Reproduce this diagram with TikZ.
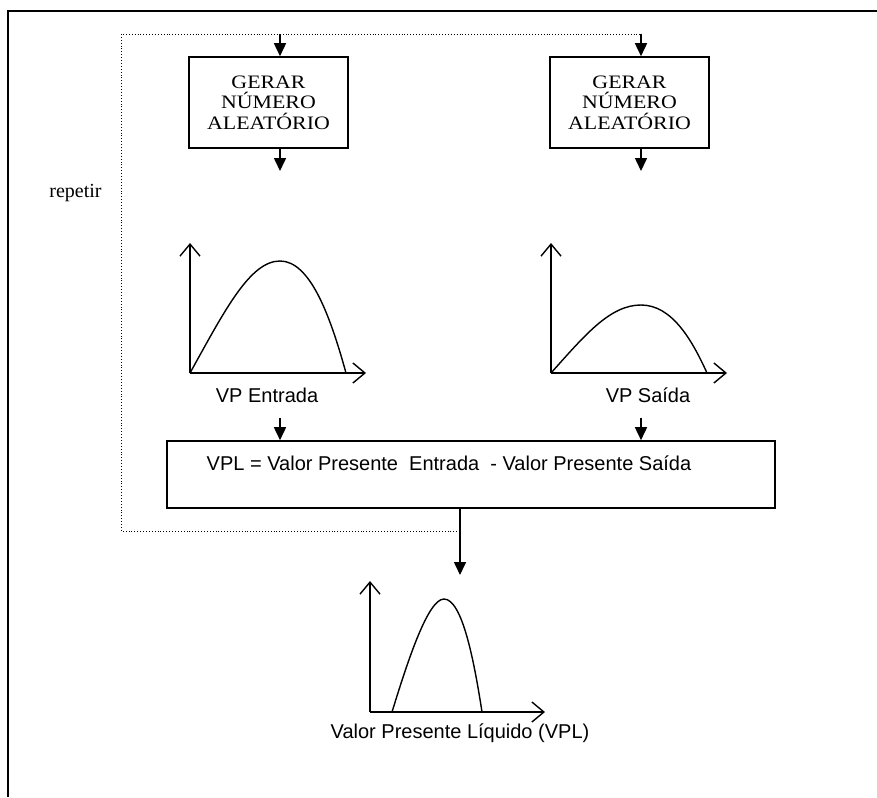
\documentclass[tikz,border=0pt]{standalone}
\usepackage{fontspec}
\setmainfont{Liberation Serif}
\setsansfont{Liberation Sans}
\newfontfamily\boxfont[FakeStretch=1.15]{Liberation Serif}
\usetikzlibrary{arrows.meta}
\begin{document}
\begin{tikzpicture}[x=1pt,y=-1pt,
  genbox/.style={draw,line width=1.6pt,minimum width=159pt,minimum height=91pt,
    align=center,inner sep=0pt,font=\boxfont\fontsize{19}{20.5}\selectfont},
  calcbox/.style={draw,line width=1.6pt,minimum width=608pt,minimum height=67pt,inner sep=0pt},
  flow/.style={line width=1.6pt,-{Triangle[length=13pt,width=12pt]}},
  axis/.style={line width=1.5pt,-{Straight Barb[length=12pt,width=20pt,line width=1.4pt]}},
  density/.style={line width=1.4pt},
  loop/.style={dotted,line width=0.9pt},
  lbl/.style={font=\sffamily\fontsize{20}{22}\selectfont,inner sep=0pt}]
\useasboundingbox (0,0) rectangle (877,797);

% page frame
\draw[line width=2pt] (7.5,797) -- (7.5,11.5) -- (877,11.5);

% random number generators
\node[genbox] (gen1) at (268.5,102.5) {GERAR\\NÚMERO\\ALEATÓRIO};
\node[genbox] (gen2) at (629.5,102.5) {GERAR\\NÚMERO\\ALEATÓRIO};

% repeat loop
\coordinate (in1) at (280,34);
\coordinate (in2) at (641,34);
\coordinate (lt) at (121,34);
\coordinate (lb) at (121,531);
\coordinate (lr) at (460,531);
\draw[loop] (lr) -- (lb) -- (lt) -- (in2);
\node[font=\fontsize{20}{22}\selectfont,anchor=base,inner sep=0pt] (rep) at (75.5,197) {repetir};

\draw[flow] (in1) -- (in1 |- gen1.north);
\draw[flow] (in2) -- (in2 |- gen2.north);

\coordinate (out1) at (280,171);
\coordinate (out2) at (641,171);
\draw[flow] (gen1.south -| out1) -- (out1);
\draw[flow] (gen2.south -| out2) -- (out2);

% input distribution
\coordinate (o1) at (190,373);
\coordinate (y1) at (190,243);
\coordinate (x1) at (366,373);
\draw[axis] (o1) -- (y1);
\draw[axis] (o1) -- (x1);
\draw[density] (o1) .. controls (225,310) and (250,261) .. (280,261)
  .. controls (310,261) and (330,315) .. (346,373);
\node[lbl,anchor=base] (lab1) at (267,402) {VP Entrada};

% output distribution
\coordinate (o2) at (551,373);
\coordinate (y2) at (551,243);
\coordinate (x2) at (727,373);
\draw[axis] (o2) -- (y2);
\draw[axis] (o2) -- (x2);
\draw[density] (o2) .. controls (585,335) and (610,305) .. (641,305)
  .. controls (672,305) and (692,340) .. (707,373);
\node[lbl,anchor=base] (lab2) at (648,402) {VP Saída};

% net present value
\node[calcbox] (calc) at (471,474.5) {};
\node[lbl,anchor=base] (calctxt) at (449,470) {VPL = Valor Presente~~Entrada~~- Valor Presente Saída};
\coordinate (a1) at (280,418);
\coordinate (a2) at (641,418);
\draw[flow] (a1) -- (a1 |- calc.north);
\draw[flow] (a2) -- (a2 |- calc.north);

\coordinate (res) at (460,575);
\draw[flow] (calc.south -| res) -- (res);

% net present value distribution
\coordinate (o3) at (370,712);
\coordinate (y3) at (370,581);
\coordinate (x3) at (545,712);
\draw[axis] (o3) -- (y3);
\draw[axis] (o3) -- (x3);
\draw[density] (392,712) .. controls (408,660) and (428,599) .. (444,599)
  .. controls (462,599) and (474,660) .. (482,712);
\node[lbl,anchor=base] (lab3) at (460,738) {Valor Presente Líquido (VPL)};
\end{tikzpicture}
\end{document}
